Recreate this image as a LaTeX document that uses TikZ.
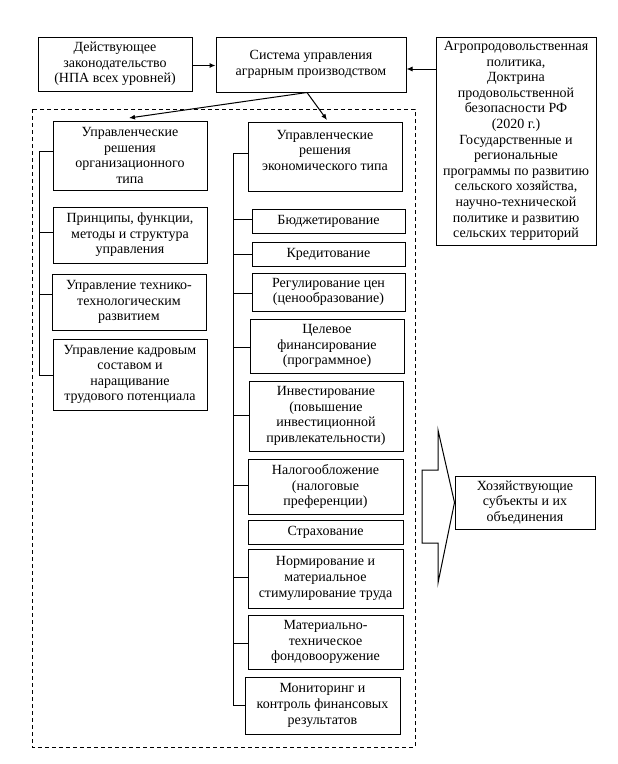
\documentclass[tikz,border=0pt]{standalone}
\usepackage{fontspec}
\setmainfont{Liberation Serif}
\usetikzlibrary{arrows.meta}
\tikzset{
  box/.style={draw, line width=1pt, align=center, inner sep=1pt, font=\fontsize{14}{15.6}\selectfont},
  conn/.style={line width=1pt},
  arr/.style={line width=1pt, -{Latex[length=6pt,width=5pt]}},
  frame/.style={line width=1pt, dash pattern=on 4pt off 3pt},
}
\newcommand\mybox[6]{\node[box, minimum width={(#3-#2)*1pt}, minimum height={(#5-#4)*1pt}] (#1) at ({(#2+#3)/2},{(#4+#5)/2}) {#6};}
\begin{document}
\begin{tikzpicture}[x=1pt,y=-1pt]
\useasboundingbox[fill=white] (0,0) rectangle (618,764);
% top row
\mybox{A}{38}{192}{37}{91}{Действующее\\законодательство\\(НПА всех уровней)}
\mybox{B}{216}{406}{37}{92}{Система управления\\аграрным производством}
\mybox{C}{436}{596}{37}{245}{Агропродовольственная\\политика,\\Доктрина\\продовольственной\\безопасности РФ\\(2020 г.)\\Государственные и\\региональные\\программы по развитию\\сельского хозяйства,\\научно-технической\\политике и развитию\\сельских территорий}
\draw[arr] (A.east |- 0,65.5) -- (B.west |- 0,65.5);
\draw[arr] (C.west |- 0,69) -- (B.east |- 0,69);
% dashed frame
\draw[frame] (32,109) rectangle (415,747);
% left column
\mybox{L1}{53}{207}{121}{190}{Управленческие\\решения\\организационного\\типа}
\mybox{L2}{53}{207}{207}{263}{Принципы, функции,\\методы и структура\\управления}
\mybox{L3}{52}{206}{274}{330}{Управление технико-\\технологическим\\развитием}
\mybox{L4}{53}{207}{339}{410}{Управление кадровым\\составом и\\наращивание\\трудового потенциала}
% right column
\mybox{R1}{248}{402}{122}{191}{Управленческие\\решения\\экономического типа\\[-3pt]\mbox{}}
\mybox{R2}{252}{405}{209}{233}{Бюджетирование}
\mybox{R3}{252}{405}{242}{266}{Кредитование}
\mybox{R4}{252}{405}{273}{311}{Регулирование цен\\(ценообразование)}
\mybox{R5}{250}{404}{319}{373}{Целевое\\финансирование\\(программное)}
\mybox{R6}{249}{403}{381}{451}{Инвестирование\\(повышение\\инвестиционной\\привлекательности)}
\mybox{R7}{248}{403}{459}{514}{Налогообложение\\(налоговые\\преференции)}
\mybox{R8}{248}{403}{520}{544}{Страхование}
\mybox{R9}{248}{403}{549}{608}{Нормирование и\\материальное\\стимулирование труда}
\mybox{R10}{248}{403}{615}{669}{Материально-\\техническое\\фондовооружение}
\mybox{R11}{245}{400}{677}{734}{Мониторинг и\\контроль финансовых\\результатов}
% arrows from B
\coordinate (Bs) at (307,92.5);
\draw[arr] (Bs) -- (129,118);
\draw[arr] (Bs) -- (327,120);
% left bracket
\coordinate (lt) at (39,151);
\coordinate (lb) at (39,375);
\draw[conn] (lt) -- (lb);
\draw[conn] (lt) -- (L1.west |- lt);
\draw[conn] (39,232) -- (L2.west |- 0,232);
\draw[conn] (39,294) -- (L3.west |- 0,294);
\draw[conn] (lb) -- (L4.west |- lb);
% right bracket
\coordinate (rt) at (233,153);
\coordinate (rb) at (233,705);
\draw[conn] (rt) -- (rb);
\draw[conn] (rt) -- (R1.west |- rt);
\foreach \n/\y in {R2/219,R3/254,R4/293,R5/347,R6/415,R7/485,R9/577,R10/643}
  \draw[conn] (233,\y) -- (\n.west |- 0,\y);
\draw[conn] (rb) -- (R11.west |- rb);
% result
\mybox{H}{455}{595}{476}{529}{Хозяйствующие\\субъекты и их\\объединения}
\draw[line width=1pt, line join=miter] (422,470) -- (438,470) -- (438,430) -- (H.west) -- (438,583) -- (438,543) -- (422,543) -- cycle;
\end{tikzpicture}
\end{document}
